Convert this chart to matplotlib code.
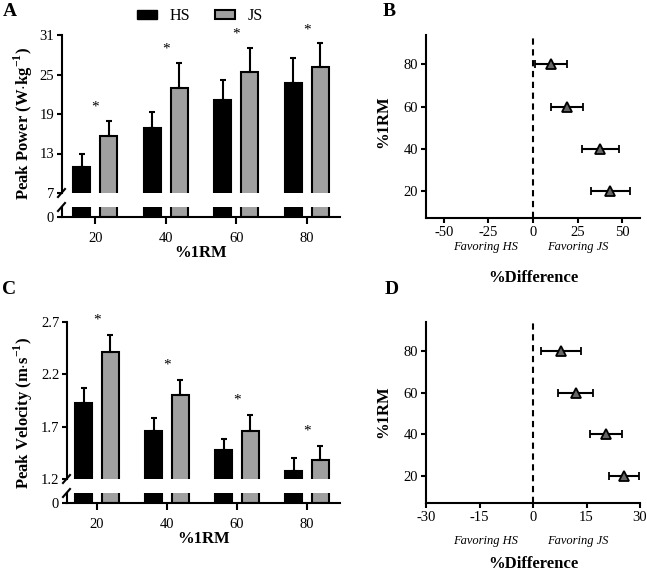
import matplotlib
matplotlib.use("Agg")
import matplotlib.pyplot as plt
from matplotlib.patches import Patch
from matplotlib.lines import Line2D

plt.rcParams["font.family"] = ["Liberation Serif", "DejaVu Serif"]
plt.rcParams["mathtext.fontset"] = "custom"
plt.rcParams["mathtext.rm"] = "Liberation Serif:bold"
plt.rcParams["mathtext.bf"] = "Liberation Serif:bold"
plt.rcParams["axes.unicode_minus"] = False

W, H = 647, 576

# ---- data ----
loads = ["20", "40", "60", "80"]

power_hs = [11.0, 16.8, 21.2, 23.7]
power_hs_sd = [1.9, 2.5, 3.0, 3.8]
power_js = [15.6, 23.0, 25.4, 26.2]
power_js_sd = [2.4, 3.8, 3.7, 3.6]

vel_hs = [1.93, 1.66, 1.48, 1.28]
vel_hs_sd = [0.14, 0.12, 0.10, 0.12]
vel_js = [2.41, 2.00, 1.66, 1.38]
vel_js_sd = [0.17, 0.15, 0.15, 0.14]

diff_levels = [20, 40, 60, 80]
power_diff = [43.3, 37.7, 19.2, 10.1]
power_diff_lo = [32.5, 27.5, 10.1, 1.1]
power_diff_hi = [54.3, 48.4, 28.2, 19.0]

vel_diff = [25.4, 20.4, 12.0, 7.8]
vel_diff_lo = [21.2, 16.0, 7.1, 2.2]
vel_diff_hi = [29.8, 24.9, 16.7, 13.4]

HS_COLOR = "black"
JS_COLOR = "#a0a0a0"


def rect(left, top, right, bottom):
    """pixel box (y down) -> figure fraction [l, b, w, h]"""
    return [left / W, 1 - bottom / H, (right - left) / W, (bottom - top) / H]


def fx(px):
    return px / W


def fy(py):
    return 1 - py / H


def style_axis(ax):
    for s in ax.spines.values():
        s.set_linewidth(1.5)
    ax.tick_params(width=1.5, length=3.6, labelsize=10.5, pad=2)


def broken_bars(fig, box_top, box_bot, x_left, x_right, hs, hs_sd, js, js_sd,
                ylim, yticks, ytick_labels, star_off, ylabel, ylabel_pos):
    ax = fig.add_axes(rect(x_left, box_top[0], x_right, box_top[1]))
    axb = fig.add_axes(rect(x_left, box_bot[0], x_right, box_bot[1]))
    x = list(range(len(loads)))
    xl = [i - 0.19 for i in x]
    xr = [i + 0.19 for i in x]
    for a in (ax, axb):
        a.bar(xl, hs, width=0.24, color=HS_COLOR, edgecolor="black", linewidth=1.5)
        a.bar(xr, js, width=0.24, color=JS_COLOR, edgecolor="black", linewidth=1.5)
        style_axis(a)
        a.spines["right"].set_visible(False)
        a.set_xlim(-0.43 if x_left > 64 else -0.47, 3.47)
    ax.errorbar(xl, hs, yerr=[[0] * 4, hs_sd], fmt="none", ecolor="black",
                elinewidth=1.5, capsize=2.5, capthick=1.5)
    ax.errorbar(xr, js, yerr=[[0] * 4, js_sd], fmt="none", ecolor="black",
                elinewidth=1.5, capsize=2.5, capthick=1.5)
    for i in x:
        ax.text(i, js[i] + js_sd[i] + star_off, "*", ha="center", va="center",
                fontsize=11, clip_on=False)
    ax.set_ylim(*ylim)
    ax.set_yticks(yticks)
    ax.set_yticklabels(ytick_labels)
    ax.spines["top"].set_visible(False)
    ax.spines["bottom"].set_visible(False)
    ax.set_xticks([])
    axb.set_ylim(0, 1)
    axb.set_yticks([0])
    axb.set_xticks(x)
    axb.set_xticklabels(loads)
    axb.tick_params(axis="x", length=5, pad=6)
    axb.spines["top"].set_visible(False)
    # break marks on the left spine
    for py in (box_top[1], box_bot[0]):
        fig.add_artist(Line2D([fx(x_left - 4), fx(x_left + 3)],
                              [fy(py + 4), fy(py - 4)], color="black", lw=1.5))
    fig.text(fx((x_left + x_right) / 2), fy(box_bot[1] + 36), "%1RM",
             ha="center", va="center", fontsize=12, fontweight="bold")
    fig.text(fx(ylabel_pos[0]), fy(ylabel_pos[1]), ylabel, rotation=90,
             ha="center", va="center", fontsize=12, fontweight="bold")
    return ax, axb


def forest(fig, top, bottom, vals, lo, hi, xlim, xticks, ylabel_y, fav_y, diff_y):
    ax = fig.add_axes(rect(426, top, 640, bottom))
    style_axis(ax)
    ax.spines["top"].set_visible(False)
    ax.spines["right"].set_visible(False)
    ax.axvline(0, color="black", lw=1.5, ls=(0, (3, 2.2)))
    err = [[v - l for v, l in zip(vals, lo)], [h - v for v, h in zip(vals, hi)]]
    ax.errorbar(vals, diff_levels, xerr=err, fmt="^", color="black", ms=6.5,
                mfc="#666666", mec="black", mew=1.3, elinewidth=1.5,
                capsize=2.6, capthick=1.5)
    ax.set_xlim(*xlim)
    ax.set_xticks(xticks)
    ax.set_ylim(7, 94)
    ax.set_yticks(diff_levels)
    ax.tick_params(axis="x", pad=2.5)
    fig.text(fx(383), fy(ylabel_y), "%1RM", rotation=90, ha="center",
             va="center", fontsize=12, fontweight="bold")
    fig.text(fx(486), fy(fav_y), "Favoring HS", ha="center", va="center",
             fontsize=9, style="italic")
    fig.text(fx(578), fy(fav_y), "Favoring JS", ha="center", va="center",
             fontsize=9, style="italic")
    fig.text(fx(533), fy(diff_y), "%Difference", ha="center", va="center",
             fontsize=12, fontweight="bold")
    return ax


fig = plt.figure(figsize=(W / 100, H / 100), dpi=100)

broken_bars(fig, (35, 193), (207, 217), 62, 340,
            power_hs, power_hs_sd, power_js, power_js_sd,
            (7, 31), [7, 13, 19, 25, 31], ["7", "13", "19", "25", "31"], 2.0,
            r"Peak Power (W$\cdot$kg$^{-1}$)", (23, 124))

broken_bars(fig, (322, 479), (493, 503), 67, 340,
            vel_hs, vel_hs_sd, vel_js, vel_js_sd,
            (1.2, 2.7), [1.2, 1.7, 2.2, 2.7], ["1.2", "1.7", "2.2", "2.7"], 0.14,
            r"Peak Velocity (m$\cdot$s$^{-1}$)", (23, 413))

forest(fig, 35, 218, power_diff, power_diff_lo, power_diff_hi,
       (-60, 60), [-50, -25, 0, 25, 50], 122, 247, 278)
forest(fig, 322, 503, vel_diff, vel_diff_lo, vel_diff_hi,
       (-30, 30), [-30, -15, 0, 15, 30], 412, 541, 564)

# legend
fig.legend(handles=[Patch(facecolor=HS_COLOR, edgecolor="black", label="HS"),
                    Patch(facecolor=JS_COLOR, edgecolor="black", linewidth=1.5, label="JS")],
           loc="center", bbox_to_anchor=(fx(200), fy(16)), ncol=2, frameon=False,
           fontsize=11.5, handlelength=1.25, handleheight=0.5, columnspacing=1.6,
           handletextpad=0.75)

for letter, (px, py) in {"A": (10, 12), "B": (389, 12), "C": (9, 289), "D": (392, 289)}.items():
    fig.text(fx(px), fy(py), letter, ha="center", va="center", fontsize=14,
             fontweight="bold")

fig.savefig("out.png", dpi=100)
